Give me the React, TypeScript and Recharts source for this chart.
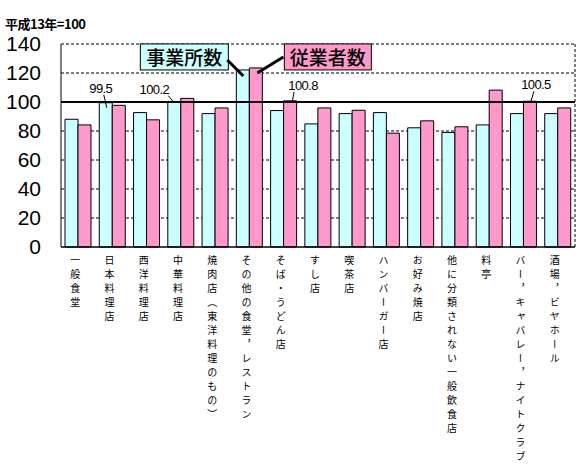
import React from 'react';
import { BarChart, Bar, XAxis, YAxis, CartesianGrid, ReferenceLine, LabelList } from 'recharts';

const categories = [
  '一般食堂',
  '日本料理店',
  '西洋料理店',
  '中華料理店',
  '焼肉店（東洋料理のもの）',
  'その他の食堂，レストラン',
  'そば・うどん店',
  'すし店',
  '喫茶店',
  'ハンバーガー店',
  'お好み焼店',
  '他に分類されない一般飲食店',
  '料亭',
  'バー，キャバレー，ナイトクラブ',
  '酒場，ビヤホール',
];

const establishments = [88.1, 99.5, 92.7, 100.2, 92.0, 122.1, 94.1, 84.9, 92.0, 92.7, 82.2, 79.0, 84.2, 92.0, 92.0];
const employees = [84.2, 97.7, 87.7, 102.5, 95.9, 123.5, 100.8, 95.9, 94.3, 78.5, 87.0, 82.9, 108.2, 100.5, 95.9];

const yTicks = [0, 20, 40, 60, 80, 100, 120, 140];
const title = '平成13年=100';
const seriesNames = ['事業所数', '従業者数'];

// which bars carry a value annotation
const estAnnotated = ['日本料理店', '中華料理店'];
const empAnnotated = ['そば・うどん店', 'バー，キャバレー，ナイトクラブ'];
const calloutCategory = 'その他の食堂，レストラン';

const data = categories.map((c, i) => ({ name: c, est: establishments[i], emp: employees[i] }));

// layout of annotation text relative to bar (dx of text center, dy of baseline, leader line)
const annLayout: Record<string, { dx: number; dy: number; l: number[] }> = {
  '日本料理店': { dx: -5, dy: -10, l: [-2, -8, 1, 5] },
  '中華料理店': { dx: -20, dy: -8, l: [-6, -6, -1, 0] },
  'そば・うどん店': { dx: 13, dy: -11, l: [4, -9, 2, 2] },
  'バー，キャバレー，ナイトクラブ': { dx: 6, dy: -12, l: [4, -10, 1, 0] },
};

const FONT_NUM = '"Liberation Sans", Arial, sans-serif';
const FONT_JP = '"Noto Sans CJK JP", sans-serif';

const makeValueLabel = (names: string[]) => (props: any) => {
  const { x, y, width, index, value } = props;
  const name = categories[index];
  if (!names.includes(name)) return null;
  const lay = annLayout[name];
  const cx = x + width / 2;
  return (
    <g>
      <text x={cx + lay.dx} y={y + lay.dy} textAnchor="middle" fontSize={13} fontFamily={FONT_NUM} letterSpacing={-0.6} fill="#000">
        {value.toFixed(1)}
      </text>
      <line x1={cx + lay.l[0]} y1={y + lay.l[1]} x2={cx + lay.l[2]} y2={y + lay.l[3]} stroke="#000" strokeWidth={1} />
    </g>
  );
};

const makeCallout = (series: 0 | 1) => (props: any) => {
  const { x, y, index } = props;
  if (categories[index] !== calloutCategory) return null;
  if (series === 0) {
    const right = x - 8;
    const left = right - 88;
    const top = y - 26;
    return (
      <g>
        <rect x={left} y={top} width={88} height={26} fill="#CCFFFF" stroke="#000" strokeWidth={1} />
        <text x={(left + right) / 2} y={top + 21} textAnchor="middle" fontSize={19} fontFamily={FONT_JP} fontWeight={500} fill="#000">
          {seriesNames[0]}
        </text>
        <line x1={x - 9} y1={y - 10} x2={x + 7} y2={y + 6} stroke="#000" strokeWidth={3} />
      </g>
    );
  }
  const left = x + 35;
  const top = y - 24;
  return (
    <g>
      <rect x={left} y={top} width={87} height={26} fill="#FF99CC" stroke="#000" strokeWidth={1} />
      <text x={left + 43.5} y={top + 21} textAnchor="middle" fontSize={19} fontFamily={FONT_JP} fontWeight={500} fill="#000">
        {seriesNames[1]}
      </text>
      <line x1={x + 34} y1={y - 11} x2={x + 8} y2={y + 5} stroke="#000" strokeWidth={3} />
    </g>
  );
};

const CategoryTick = (props: any) => {
  const { x, y, payload } = props;
  return (
    <text
      x={x - 3}
      y={y}
      fontSize={10}
      fontFamily={FONT_JP}
      letterSpacing={4.05}
      fill="#000"
      style={{ writingMode: 'vertical-rl' } as any}
    >
      {payload.value}
    </text>
  );
};

export default function App() {
  return (
    <div style={{ position: 'absolute', left: 0, top: 0, width: 580, height: 468, background: '#fff' }}>
      <div
        style={{
          position: 'absolute',
          left: 5,
          top: 15,
          fontFamily: FONT_JP,
          fontWeight: 700,
          fontSize: 13,
          lineHeight: '17px',
          color: '#000',
          letterSpacing: -0.5,
        }}
      >
        {title}
      </div>
      <BarChart
        width={580}
        height={468}
        data={data}
        margin={{ top: 44, right: 5, left: 0, bottom: 0 }}
        barGap={0}
        barSize={13}
      >
        <CartesianGrid
          vertical={true}
          stroke="#000"
          strokeDasharray="3 2"
          horizontalValues={[20, 40, 60, 80, 120, 140]}
          verticalCoordinatesGenerator={({ offset }: any) => [offset.left + offset.width]}
        />
        <XAxis
          dataKey="name"
          interval={0}
          height={221}
          axisLine={{ stroke: '#000', strokeWidth: 1.5 }}
          tickLine={false}
          tick={<CategoryTick />}
        />
        <YAxis
          width={61}
          domain={[0, 140]}
          ticks={yTicks}
          interval={0}
          tickSize={0}
          tickMargin={20}
          axisLine={{ stroke: '#000', strokeWidth: 1 }}
          tickLine={false}
          tick={{ fontSize: 21, fill: '#000', fontFamily: FONT_NUM }}
        />
        <Bar dataKey="est" fill="#CCFFFF" stroke="#000" strokeWidth={1} isAnimationActive={false}>
          <LabelList dataKey="est" content={makeValueLabel(estAnnotated)} />
          <LabelList dataKey="est" content={makeCallout(0)} />
        </Bar>
        <Bar dataKey="emp" fill="#FF99CC" stroke="#000" strokeWidth={1} isAnimationActive={false}>
          <LabelList dataKey="emp" content={makeValueLabel(empAnnotated)} />
          <LabelList dataKey="emp" content={makeCallout(1)} />
        </Bar>
        <ReferenceLine y={100} stroke="#000" strokeWidth={2} ifOverflow="visible" />
      </BarChart>
    </div>
  );
}
